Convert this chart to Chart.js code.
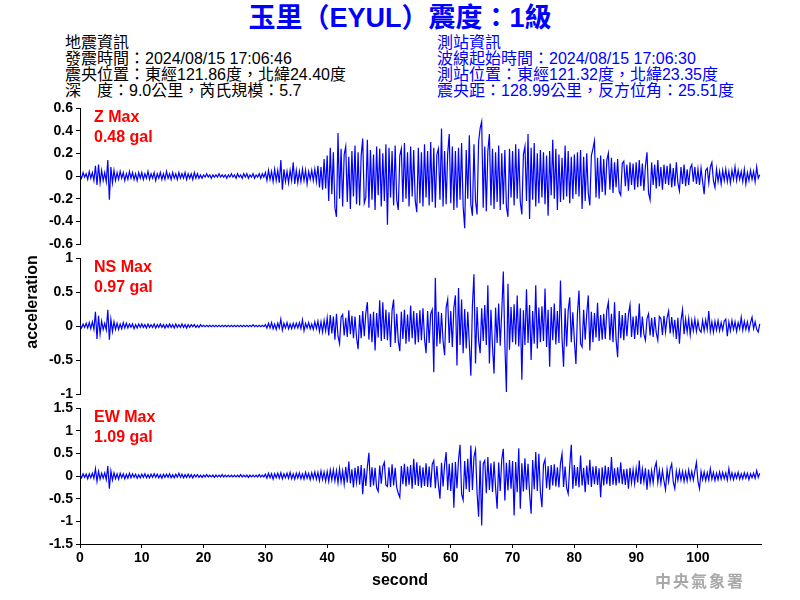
<!DOCTYPE html>
<html>
<head>
<meta charset="utf-8">
<script src="https://cdn.jsdelivr.net/npm/chart.js@4/dist/chart.umd.min.js"></script>
<style>
body { margin: 0; background: #fff; }
#wrap { position: relative; width: 800px; height: 600px; overflow: hidden; font-family: "Liberation Sans", Arial, "Noto Sans CJK TC", sans-serif; }
canvas { position: absolute; left: 0; }
.t { position: absolute; white-space: nowrap; }
.info { font-size: 16px; line-height: 16px; }
.red { color: #ff0000; font-size: 16px; line-height: 20px; left: 94px; font-weight: bold; }
</style>
</head>
<body>
<div id="wrap">
  <div class="t" style="left:0;width:800px;top:3px;text-align:center;font-size:27px;line-height:30px;font-weight:bold;color:#0000ff;">玉里（EYUL）震度：1級</div>

  <div class="t info" style="left:65px;top:35px;">地震資訊</div>
  <div class="t info" style="left:65px;top:51px;">發震時間：2024/08/15 17:06:46</div>
  <div class="t info" style="left:65px;top:67px;">震央位置：東經121.86度，北緯24.40度</div>
  <div class="t info" style="left:65px;top:83px;">深　度：9.0公里，芮氏規模：5.7</div>

  <div class="t info" style="left:437px;top:35px;color:#0000ff;">測站資訊</div>
  <div class="t info" style="left:437px;top:51px;color:#0000ff;">波線起始時間：2024/08/15 17:06:30</div>
  <div class="t info" style="left:437px;top:67px;color:#0000ff;">測站位置：東經121.32度，北緯23.35度</div>
  <div class="t info" style="left:437px;top:83px;color:#0000ff;">震央距：128.99公里，反方位角：25.51度</div>

  <canvas id="cZ" width="800" height="160" style="top:96px;"></canvas>
  <canvas id="cNS" width="800" height="160" style="top:246px;"></canvas>
  <canvas id="cEW" width="800" height="204" style="top:396px;"></canvas>

  <div class="t red" id="lab0" style="top:107px;"></div>
  <div class="t red" id="val0" style="top:127px;"></div>
  <div class="t red" id="lab1" style="top:257px;"></div>
  <div class="t red" id="val1" style="top:277px;"></div>
  <div class="t red" id="lab2" style="top:407px;"></div>
  <div class="t red" id="val2" style="top:427px;"></div>

  <div class="t" style="left:-18px;top:292px;width:100px;text-align:center;font-size:16px;line-height:20px;font-weight:bold;transform:rotate(-90deg);">acceleration</div>
  <div class="t" style="left:350px;top:570px;width:100px;text-align:center;font-size:16px;line-height:20px;font-weight:bold;">second</div>
  <div class="t" style="left:640px;top:570px;width:120px;text-align:center;font-size:16px;line-height:20px;font-weight:bold;letter-spacing:2px;color:#a8a8a8;font-family:'Noto Sans CJK TC',sans-serif;">中央氣象署</div>
</div>

<script>
// sample spacing (s) and axis end
const dt = 0.25;
const xMax = 110.2;
const xTickMax = 100;

const channels = ['Z', 'NS', 'EW'];
const yLimits = [0.6, 1, 1.5];
const ySteps = [0.2, 0.5, 0.5];

// vertical (Z), one row = 5 s
const zAcc = [
  0.01, -0.02, 0.03, -0.01, 0.02, -0.03, 0.04, -0.02, 0.03, -0.04, 0.09, -0.08, 0.10, -0.06, 0.05, -0.04, 0.03, -0.05, 0.14, -0.21,
  0.08, -0.06, 0.05, -0.04, 0.03, -0.03, 0.04, -0.02, 0.03, -0.04, 0.02, -0.03, 0.04, -0.02, 0.03, -0.03, 0.02, -0.04, 0.03, -0.02,
  0.03, -0.03, 0.02, -0.02, 0.04, -0.03, 0.02, -0.02, 0.03, -0.04, 0.02, -0.02, 0.03, -0.03, 0.02, -0.03, 0.04, -0.02, 0.02, -0.03,
  0.03, -0.02, 0.02, -0.03, 0.03, -0.02, 0.02, -0.02, 0.03, -0.03, 0.02, -0.02, 0.02, -0.03, 0.03, -0.02, 0.02, -0.02, 0.01, -0.02,
  0.01, -0.01, 0.02, -0.01, 0.01, -0.02, 0.01, -0.01, 0.01, -0.01, 0.02, -0.01, 0.01, -0.01, 0.01, -0.02, 0.01, -0.01, 0.02, -0.01,
  0.01, -0.02, 0.02, -0.01, 0.01, -0.02, 0.02, -0.01, 0.02, -0.02, 0.01, -0.01, 0.02, -0.02, 0.01, -0.01, 0.02, -0.02, 0.02, -0.01,
  0.03, -0.04, 0.05, -0.03, 0.04, -0.05, 0.06, -0.04, 0.05, -0.06, 0.14, -0.12, 0.06, -0.05, 0.04, -0.06, 0.05, -0.04, 0.12, -0.07,
  0.05, -0.06, 0.04, -0.05, 0.06, -0.04, 0.05, -0.07, 0.04, -0.03, 0.05, -0.04, 0.06, -0.05, 0.09, -0.10, 0.08, -0.12, 0.15, -0.11,
  0.18, -0.22, 0.25, -0.16, 0.21, -0.28, -0.36, 0.38, -0.20, 0.24, -0.27, 0.19, 0.26, -0.23, 0.17, -0.29, 0.22, -0.18, 0.27, -0.25,
  0.21, -0.26, 0.18, 0.33, -0.24, -0.19, 0.32, -0.28, 0.23, -0.21, 0.19, -0.30, 0.26, -0.17, 0.24, -0.27, 0.20, -0.22, 0.28, -0.43,
  0.25, -0.19, 0.22, -0.26, 0.27, -0.21, -0.30, 0.18, 0.24, -0.23, 0.29, -0.20, 0.21, -0.27, 0.26, -0.18, 0.23, -0.22, -0.32, 0.25,
  -0.24, 0.21, -0.27, 0.28, -0.19, 0.22, -0.26, 0.30, -0.23, 0.25, -0.28, 0.19, 0.24, -0.21, 0.42, -0.27, 0.22, -0.25, 0.20, 0.37,
  -0.24, 0.26, -0.30, 0.22, -0.28, 0.25, -0.21, 0.29, -0.27, -0.46, 0.23, -0.20, 0.36, -0.25, -0.35, 0.28, -0.22, -0.34, 0.30, 0.42,
  0.48, -0.28, 0.26, -0.31, 0.22, 0.37, -0.26, 0.24, -0.29, 0.21, -0.23, 0.27, -0.30, 0.20, -0.25, 0.23, -0.27, -0.36, 0.24, -0.19,
  0.22, -0.26, 0.28, -0.20, 0.24, -0.23, -0.34, 0.19, 0.26, -0.22, 0.37, -0.38, 0.25, -0.21, 0.29, -0.27, 0.20, -0.24, 0.23, -0.19,
  0.21, -0.25, 0.18, -0.35, 0.22, -0.17, 0.32, -0.20, 0.24, -0.30, 0.19, -0.23, 0.16, -0.21, 0.27, -0.18, 0.22, -0.24, 0.17, -0.20,
  0.19, -0.16, 0.21, -0.18, 0.23, -0.29, 0.17, -0.22, 0.20, -0.15, -0.26, 0.18, 0.24, 0.31, -0.19, 0.16, -0.20, 0.18, -0.14, 0.15,
  -0.17, 0.14, 0.20, -0.12, 0.16, -0.15, 0.12, -0.10, 0.15, -0.14, -0.17, 0.11, 0.13, -0.09, 0.10, -0.13, 0.12, -0.08, 0.11, -0.12,
  0.12, -0.10, 0.14, -0.09, 0.11, -0.13, 0.09, 0.21, -0.15, -0.21, 0.12, -0.08, 0.10, -0.11, 0.14, -0.09, 0.08, -0.12, 0.10, -0.07,
  0.09, -0.08, 0.11, -0.10, 0.07, -0.09, 0.12, -0.06, -0.13, 0.08, -0.07, 0.10, -0.09, 0.06, -0.08, 0.07, 0.10, -0.05, 0.08, -0.07,
  0.06, -0.08, 0.07, -0.05, -0.16, 0.05, 0.07, -0.06, 0.08, 0.12, -0.04, -0.10, 0.06, -0.05, 0.04, -0.07, 0.05, -0.04, 0.06, -0.05,
  0.04, -0.06, 0.05, -0.03, 0.08, -0.04, 0.05, -0.03, 0.04, -0.05, 0.06, -0.07, 0.03, -0.04, 0.05, -0.03, 0.04, -0.05, 0.08, -0.02,
  0.01
];

// north-south
const nsAcc = [
  0.02, -0.03, 0.03, -0.02, 0.04, -0.03, 0.05, -0.04, 0.06, -0.05, 0.21, -0.19, 0.15, -0.12, 0.07, -0.05, 0.04, -0.06, 0.24, -0.20,
  0.10, -0.08, 0.06, -0.05, 0.04, -0.05, 0.03, -0.04, 0.05, -0.03, 0.04, -0.03, 0.03, -0.02, 0.03, -0.04, 0.02, -0.03, 0.03, -0.02,
  0.03, -0.02, 0.02, -0.03, 0.03, -0.02, 0.02, -0.02, 0.03, -0.03, 0.02, -0.02, 0.03, -0.02, 0.02, -0.03, 0.02, -0.02, 0.03, -0.02,
  0.02, -0.03, 0.03, -0.02, 0.02, -0.02, 0.03, -0.02, 0.02, -0.03, 0.02, -0.02, 0.02, -0.01, 0.02, -0.02, 0.01, -0.02, 0.02, -0.01,
  0.01, -0.01, 0.01, -0.01, 0.01, -0.01, 0.01, -0.01, 0.01, -0.01, 0.01, -0.01, 0.01, -0.01, 0.01, -0.01, 0.01, -0.01, 0.01, -0.01,
  0.01, -0.01, 0.01, -0.01, 0.01, -0.01, 0.01, -0.01, 0.01, -0.01, 0.01, -0.01, 0.02, -0.01, 0.01, -0.01, 0.01, -0.01, 0.01, -0.01,
  0.02, -0.03, 0.04, -0.03, 0.05, -0.04, 0.03, -0.05, 0.04, -0.03, 0.10, -0.06, 0.04, -0.03, 0.05, -0.04, 0.03, -0.04, 0.04, -0.03,
  0.04, -0.03, 0.05, -0.04, 0.09, -0.07, 0.04, -0.03, 0.05, -0.04, 0.03, -0.05, 0.06, -0.04, 0.07, -0.08, 0.06, -0.09, 0.08, -0.07,
  0.12, -0.14, 0.16, -0.11, 0.14, -0.20, 0.18, -0.15, -0.26, 0.13, 0.17, -0.14, 0.12, -0.16, 0.23, -0.12, 0.15, -0.18, 0.14, -0.17,
  -0.34, 0.16, -0.18, 0.22, -0.15, 0.19, 0.35, -0.20, 0.18, -0.24, 0.21, -0.36, 0.19, -0.17, 0.38, -0.22, 0.35, -0.19, 0.24, -0.21,
  0.20, -0.31, 0.23, 0.39, -0.25, 0.18, -0.22, -0.37, 0.21, -0.19, 0.24, -0.26, 0.17, -0.23, 0.30, -0.18, 0.22, -0.27, 0.19, -0.24,
  0.23, -0.21, 0.26, -0.19, -0.40, 0.22, -0.25, 0.18, 0.24, -0.68, 0.71, -0.30, 0.21, -0.26, 0.19, -0.22, -0.43, 0.27, 0.39, -0.25,
  0.22, -0.31, 0.27, 0.45, -0.58, 0.56, -0.28, 0.39, -0.40, 0.25, -0.33, 0.21, -0.26, -0.73, 0.30, 0.76, -0.55, 0.28, -0.21, -0.40,
  0.26, -0.22, 0.31, -0.28, 0.60, -0.55, 0.24, -0.30, -0.70, 0.27, -0.25, 0.33, -0.29, 0.21, 0.80, -0.26, -0.97, 0.62, -0.35, 0.28,
  -0.24, 0.32, -0.27, 0.45, -0.30, 0.26, -0.79, 0.23, -0.28, 0.54, -0.25, 0.31, -0.50, 0.22, -0.26, 0.60, -0.33, 0.27, -0.24, 0.29,
  -0.22, 0.55, -0.31, 0.24, -0.60, 0.28, -0.21, 0.33, -0.27, 0.22, -0.25, 0.67, -0.18, -0.60, 0.26, -0.30, 0.23, 0.42, -0.24, 0.20,
  -0.22, -0.56, 0.19, 0.52, -0.26, -0.31, 0.24, -0.20, 0.18, 0.45, -0.36, 0.21, -0.24, 0.19, -0.17, 0.34, -0.22, 0.16, -0.20, 0.18,
  -0.19, 0.23, 0.35, -0.21, 0.18, -0.24, 0.35, -0.20, -0.46, 0.22, -0.18, 0.16, -0.21, 0.19, -0.15, 0.17, 0.31, -0.16, 0.14, -0.19,
  0.15, -0.13, 0.33, -0.17, 0.14, -0.12, -0.21, 0.11, 0.18, -0.14, 0.12, -0.16, 0.13, -0.10, -0.21, 0.14, 0.11, -0.13, 0.15, -0.09,
  0.12, 0.22, -0.11, 0.13, -0.10, 0.09, -0.19, 0.12, -0.26, 0.08, 0.24, -0.12, 0.10, -0.09, 0.11, -0.13, 0.08, -0.07, 0.10, -0.08,
  0.07, -0.06, -0.09, 0.08, -0.07, 0.09, -0.05, 0.22, -0.08, 0.06, -0.09, 0.07, -0.06, 0.08, -0.07, 0.05, -0.06, 0.07, 0.10, -0.15,
  0.06, -0.07, 0.08, -0.05, 0.06, -0.08, 0.05, -0.04, 0.13, -0.06, 0.07, -0.05, 0.06, -0.07, 0.05, 0.13, -0.04, 0.06, -0.05, -0.09,
  0.03
];

// east-west
const ewAcc = [
  0.03, -0.04, 0.05, -0.03, 0.04, -0.06, 0.05, -0.04, 0.06, -0.05, 0.16, -0.12, 0.10, -0.07, 0.06, -0.05, 0.07, -0.08, 0.22, -0.28,
  0.11, -0.09, 0.07, -0.06, 0.05, -0.07, 0.06, -0.04, 0.05, -0.06, 0.04, -0.05, 0.06, -0.04, 0.05, -0.03, 0.04, -0.05, 0.03, -0.04,
  0.04, -0.03, 0.05, -0.04, 0.03, -0.04, 0.04, -0.03, 0.05, -0.03, 0.04, -0.04, 0.03, -0.05, 0.04, -0.03, 0.04, -0.03, 0.05, -0.04,
  0.03, -0.04, 0.04, -0.03, 0.06, -0.03, 0.04, -0.04, 0.03, -0.03, 0.04, -0.03, 0.03, -0.04, 0.03, -0.02, 0.03, -0.03, 0.02, -0.03,
  0.02, -0.02, 0.03, -0.02, 0.02, -0.02, 0.02, -0.03, 0.02, -0.02, 0.02, -0.02, 0.03, -0.02, 0.02, -0.02, 0.02, -0.02, 0.02, -0.02,
  0.02, -0.02, 0.02, -0.02, 0.03, -0.02, 0.02, -0.02, 0.02, -0.03, 0.02, -0.02, 0.02, -0.02, 0.02, -0.02, 0.03, -0.02, 0.02, -0.02,
  0.04, -0.05, 0.06, -0.04, 0.05, -0.07, 0.05, -0.04, 0.06, -0.05, 0.07, -0.06, 0.05, -0.04, 0.06, -0.05, 0.08, -0.06, 0.05, -0.07,
  0.06, -0.05, 0.07, -0.06, 0.05, -0.07, 0.08, -0.05, 0.06, -0.08, 0.07, -0.06, 0.09, -0.07, 0.08, -0.10, 0.11, -0.08, 0.09, -0.11,
  0.10, -0.12, 0.13, -0.09, 0.14, -0.11, 0.12, -0.15, 0.16, -0.13, 0.11, -0.18, 0.20, -0.14, 0.32, -0.16, 0.15, -0.25, 0.18, -0.14,
  0.22, -0.19, 0.24, -0.40, 0.17, -0.22, 0.20, 0.51, -0.24, 0.19, -0.21, 0.18, -0.26, -0.34, 0.23, -0.17, 0.21, 0.30, -0.20, -0.23,
  0.19, -0.24, 0.26, -0.21, 0.18, -0.25, -0.38, -0.47, 0.22, -0.18, 0.27, -0.23, 0.21, -0.19, 0.24, -0.28, 0.38, -0.20, 0.30, -0.22,
  0.23, -0.26, 0.19, -0.22, 0.28, -0.24, 0.21, -0.25, 0.26, 0.34, -0.27, 0.22, -0.20, -0.50, 0.29, -0.23, 0.25, 0.53, -0.31, 0.27,
  -0.33, 0.29, -0.70, 0.31, -0.27, 0.36, 0.69, -0.40, -0.53, 0.33, -0.29, 0.38, -0.35, 0.67, -0.31, 0.42, 0.58, -0.36, -0.90, 0.34,
  -1.09, 0.27, 0.34, -0.38, 0.42, -0.31, 0.28, -0.35, 0.32, -0.26, -0.72, 0.30, -0.33, 0.37, 0.60, -0.54, 0.29, -0.32, 0.35, -0.28,
  0.33, -0.87, 0.31, -0.36, 0.61, -0.72, 0.28, -0.34, 0.39, -0.30, 0.27, -0.38, -0.83, 0.35, -0.29, 0.53, -0.33, 0.49, -0.36, -0.69,
  0.25, 0.36, -0.27, 0.22, -0.30, 0.24, -0.21, 0.26, -0.23, 0.19, -0.25, 0.28, 0.49, -0.24, 0.21, -0.26, -0.39, 0.23, 0.69, -0.28,
  0.24, -0.22, 0.20, -0.25, 0.45, -0.21, 0.18, -0.36, 0.23, -0.19, 0.36, -0.24, 0.21, -0.18, 0.22, -0.20, 0.17, -0.47, 0.19, -0.21,
  0.23, -0.18, 0.20, -0.22, 0.42, -0.19, 0.17, -0.21, 0.19, -0.16, 0.30, -0.18, 0.15, -0.20, 0.16, -0.28, 0.18, -0.15, 0.14, -0.17,
  0.16, -0.14, 0.34, -0.18, 0.15, -0.13, 0.17, -0.30, 0.14, -0.16, 0.12, -0.15, 0.18, 0.30, -0.14, 0.13, -0.16, 0.12, -0.11, -0.30,
  0.14, -0.12, 0.15, 0.27, -0.13, -0.28, 0.11, -0.10, 0.12, -0.09, 0.10, -0.12, 0.09, -0.11, 0.13, -0.08, 0.10, -0.09, 0.11, 0.30,
  -0.12, -0.28, 0.10, -0.08, 0.09, -0.10, 0.07, -0.09, 0.16, -0.07, 0.08, -0.10, 0.06, -0.08, 0.09, -0.07, 0.08, -0.06, 0.07, -0.09,
  0.16, -0.06, 0.07, -0.08, 0.06, -0.05, 0.08, -0.07, 0.05, -0.06, 0.07, -0.05, 0.06, -0.08, 0.05, -0.04, 0.06, -0.05, 0.12, -0.03,
  0.06
];

const series = [zAcc, nsAcc, ewAcc];
const canvasIds = ['cZ', 'cNS', 'cEW'];

const tickFont = { family: "'Liberation Sans', Arial, sans-serif", size: 14, weight: 'bold' };
Chart.defaults.color = '#000';

const makeChart = (idx) => {
  const values = series[idx];
  const showX = idx === 2;
  const lim = yLimits[idx];
  return new Chart(document.getElementById(canvasIds[idx]), {
    type: 'line',
    data: {
      datasets: [{
        data: values.map((v, i) => ({ x: i * dt, y: v })),
        borderColor: '#0000ff',
        borderWidth: 1.2,
        pointRadius: 0,
        fill: false
      }]
    },
    options: {
      responsive: false,
      animation: false,
      events: [],
      layout: { padding: { top: 12, bottom: showX ? 0 : 12, left: 0, right: 39 } },
      plugins: { legend: { display: false }, tooltip: { enabled: false } },
      scales: {
        x: {
          type: 'linear',
          min: 0,
          max: xMax,
          display: showX,
          grid: { drawOnChartArea: false, tickLength: 4, color: '#000' },
          border: { display: true, color: '#000', width: 1 },
          ticks: { stepSize: 10, padding: 2, font: tickFont, maxRotation: 0, autoSkip: false },
          afterBuildTicks: (s) => { s.ticks = s.ticks.filter(t => t.value <= xTickMax); },
          afterFit: (s) => { if (showX) s.height = 56; }
        },
        y: {
          min: -lim,
          max: lim,
          grid: { drawOnChartArea: false, tickLength: 4, color: '#000' },
          border: { display: true, color: '#000', width: 1 },
          ticks: {
            stepSize: ySteps[idx], padding: 3, font: tickFont, autoSkip: false,
            callback: (v) => String(+v.toFixed(1))
          },
          afterFit: (s) => { s.width = 80; }
        }
      }
    }
  });
};

channels.forEach((name, idx) => {
  makeChart(idx);
  const peak = Math.max(...series[idx].map(Math.abs));
  document.getElementById('lab' + idx).textContent = name + ' Max';
  document.getElementById('val' + idx).textContent = peak.toFixed(2) + ' gal';
});
</script>
</body>
</html>
